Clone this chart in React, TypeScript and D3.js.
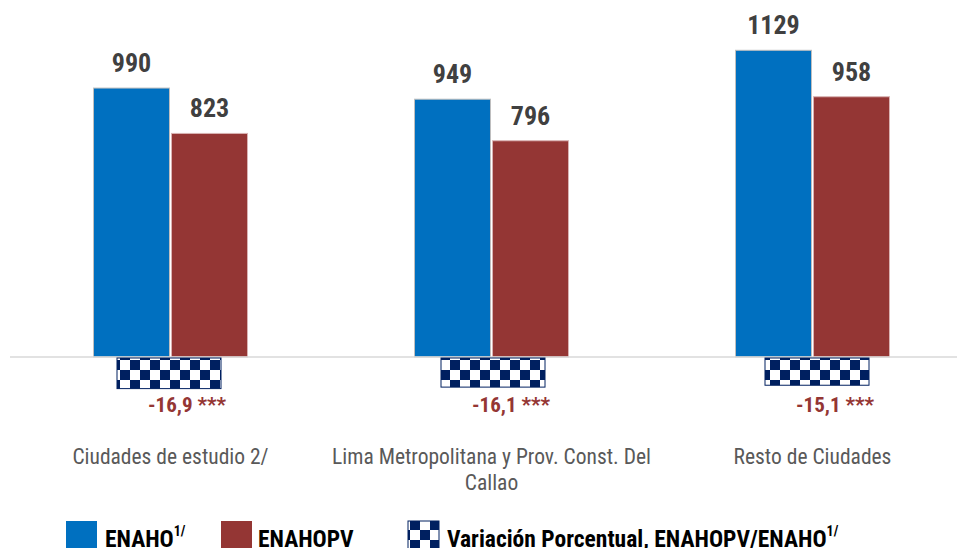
import * as d3 from "d3";

const categories = [
  "Ciudades de estudio 2/",
  "Lima Metropolitana y Prov. Const. Del Callao",
  "Resto de Ciudades",
];
// category labels broken the way the source wraps them
const categoryLines = [
  ["Ciudades de estudio 2/"],
  ["Lima Metropolitana y Prov. Const. Del", "Callao"],
  ["Resto de Ciudades"],
];
const series = ["ENAHO", "ENAHOPV"];
const enaho = [990, 949, 1129];
const enahopv = [823, 796, 958];
const variacion = [-16.9, -16.1, -15.1];
const significance = ["***", "***", "***"];

const W = 957;
const H = 548;
const BLUE = "#0070C0";
const RED = "#943634";
const NAVY = "#002060";
const NARROW = "'Liberation Sans Narrow', 'Arial Narrow', 'Roboto Condensed', sans-serif";

const fmt = d3
  .formatLocale({ decimal: ",", thousands: ".", grouping: [3], currency: ["", ""], minus: "-" })
  .format(".1f");

export default function App() {
  const x0 = d3.scaleBand<string>().domain(categories).range([10, 973]);
  const x1 = d3
    .scaleBand<string>()
    .domain(series)
    .range([x0.bandwidth() / 2 - 77, x0.bandwidth() / 2 + 77])
    .paddingInner(0.026);
  // the variation bars sit on their own (secondary) axis
  const xv = d3.scaleBand<string>().domain(categories).range([7, 979]);
  const y = d3.scaleLinear().domain([0, 1200]).range([357, 31]);
  const yv = d3.scaleLinear().domain([-20, 0]).range([394.4, 357]);
  const y0 = y(0);
  const checkW = 104;

  const values = [enaho, enahopv];
  const colors = [BLUE, RED];
  const strokes = ["#bfbfbf", "#d9b3b3"];

  return (
    <svg
      width={W}
      height={H}
      viewBox={`0 0 ${W} ${H}`}
      style={{ position: "absolute", left: 0, top: 0, background: "#fff" }}
    >
      <defs>
        <pattern id="checker" width="20" height="20" patternUnits="userSpaceOnUse">
          <rect width="20" height="20" fill="#fff" />
          <rect x="10" y="0" width="10" height="10" fill={NAVY} />
          <rect x="0" y="10" width="10" height="10" fill={NAVY} />
        </pattern>
      </defs>

      {/* bars */}
      {categories.map((c, i) => (
        <g key={c} transform={`translate(${x0(c)},0)`}>
          {series.map((s, j) => (
            <rect
              key={s}
              x={x1(s)}
              y={y(values[j][i])}
              width={x1.bandwidth()}
              height={y0 - y(values[j][i])}
              fill={colors[j]}
              stroke={strokes[j]}
              strokeWidth={1}
            />
          ))}
          {series.map((s, j) => (
            <text
              key={s + "l"}
              x={(x1(s) as number) + x1.bandwidth() / 2}
              y={y(values[j][i]) - 16}
              textAnchor="middle"
              fontFamily={NARROW}
              fontWeight="bold"
              fontSize={26}
              fill="#404040"
            >
              {values[j][i]}
            </text>
          ))}
        </g>
      ))}

      {/* baseline */}
      <line x1={10} x2={W} y1={y0} y2={y0} stroke="#d9d9d9" strokeWidth={1.5} />

      {/* variation bars */}
      {categories.map((c, i) => {
        const cx = (xv(c) as number) + xv.bandwidth() / 2;
        return (
          <g key={c + "v"}>
            <rect
              x={cx - checkW / 2}
              y={y0 + 1}
              width={checkW}
              height={yv(variacion[i]) - y0 - 1}
              fill="url(#checker)"
              stroke={NAVY}
              strokeWidth={1}
            />
            <text
              x={cx - checkW / 2 + 31}
              y={y0 + 55}
              fontFamily={NARROW}
              fontWeight="bold"
              fontSize={21}
              fill={RED}
            >
              {fmt(variacion[i])}
              <tspan dx={5} fontSize={21}>
                {significance[i]}
              </tspan>
            </text>
          </g>
        );
      })}

      {/* category labels */}
      {categories.map((c, i) => (
        <text
          key={c + "c"}
          x={(x0(c) as number) + x0.bandwidth() / 2}
          y={464}
          textAnchor="middle"
          fontFamily={NARROW}
          fontSize={21.5}
          fill="#595959"
        >
          {categoryLines[i].map((ln, k) => (
            <tspan key={k} x={(x0(c) as number) + x0.bandwidth() / 2} dy={k === 0 ? 0 : 26}>
              {ln}
            </tspan>
          ))}
        </text>
      ))}

      {/* legend */}
      <g fontFamily={NARROW} fontWeight="bold" fontSize={23.5} fill="#000">
        <rect x={66} y={521} width={31} height={31} fill={BLUE} />
        <text x={105} y={547}>
          ENAHO
          <tspan fontSize={14} dy={-11}>
            1/
          </tspan>
        </text>
        <rect x={221} y={521} width={31} height={31} fill={RED} />
        <text x={258} y={547}>
          ENAHOPV
        </text>
        <rect x={408} y={521} width={31} height={31} fill="url(#checker)" stroke={NAVY} />
        <text x={447} y={547}>
          Variación Porcentual, ENAHOPV/ENAHO
          <tspan fontSize={14} dy={-11}>
            1/
          </tspan>
        </text>
      </g>
    </svg>
  );
}
